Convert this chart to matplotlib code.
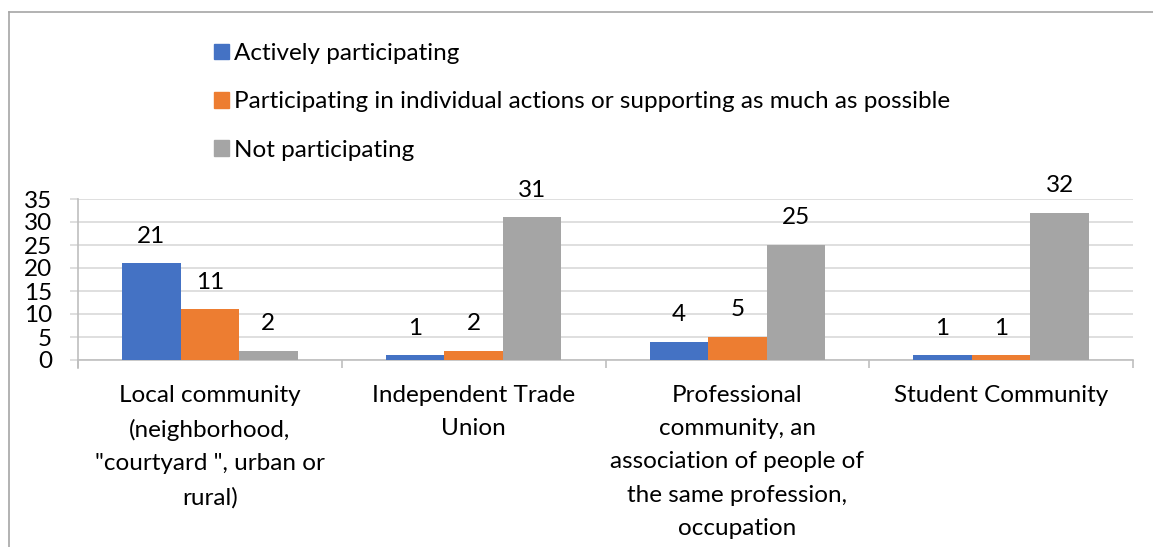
import numpy as np
import matplotlib
matplotlib.use("Agg")
import matplotlib.pyplot as plt
from matplotlib.lines import Line2D

plt.rcParams["font.family"] = ["Lato", "DejaVu Sans"]

categories = [
    "Local community\n(neighborhood,\n\"courtyard \", urban or\nrural)",
    "Independent Trade\nUnion",
    "Professional\ncommunity, an\nassociation of people of\nthe same profession,\noccupation",
    "Student Community",
]
series_names = [
    "Actively participating",
    "Participating in individual actions or supporting as much as possible",
    "Not participating",
]
active = [21, 1, 4, 1]
partial = [11, 2, 5, 1]
not_part = [2, 31, 25, 32]
y_ticks = [0, 5, 10, 15, 20, 25, 30, 35]

COLORS = ["#4472C4", "#ED7D31", "#A5A5A5"]
GRID = "#d9d9d9"
AXIS = "#bfbfbf"
INK = "#000000"
FS = 17.5

fig = plt.figure(figsize=(11.53, 5.47), dpi=100)
ax = fig.add_axes([78 / 1153, 1 - 360 / 547, (1133 - 78) / 1153, (360 - 199) / 547])

x = np.arange(len(categories))
w = 0.222
for i, (vals, col, name) in enumerate(zip([active, partial, not_part], COLORS, series_names)):
    pos = x + (i - 1) * w
    ax.bar(pos, vals, width=w, color=col, label=name, zorder=3)
    for px, v in zip(pos, vals):
        ax.annotate(str(v), (px, v), xytext=(0, 27), textcoords="offset pixels",
                    ha="center", va="center", fontsize=FS, color=INK)

ax.set_xlim(-0.5, len(categories) - 0.5)
ax.set_ylim(0, 35)
ax.set_yticks(y_ticks)
ax.tick_params(axis="y", length=5.8, width=1.2, color=GRID, pad=13, labelsize=FS, labelcolor=INK)
ax.yaxis.grid(True, color=GRID, linewidth=1.2, zorder=0)
ax.set_axisbelow(True)

ax.set_xticks(x)
ax.set_xticklabels(categories, fontsize=FS, linespacing=1.72, color=INK)
ax.tick_params(axis="x", which="major", length=0, pad=18)
ax.set_xticks(np.arange(len(categories) + 1) - 0.5, minor=True)
ax.tick_params(axis="x", which="minor", length=6, width=1.2, color=AXIS)

for s in ["top", "right"]:
    ax.spines[s].set_visible(False)
ax.spines["left"].set_color(AXIS)
ax.spines["bottom"].set_color(AXIS)
ax.spines["left"].set_linewidth(1.2)
ax.spines["bottom"].set_linewidth(1.2)
ax.spines["left"].set_bounds(-1.7, 35)

# legend as a stacked list above the plot
handles = [plt.Rectangle((0, 0), 1, 1, color=c) for c in COLORS]
fig.legend(handles, series_names, loc="upper left", bbox_to_anchor=(202 / 1153, 1 - 31 / 547),
           frameon=False, fontsize=FS, handlelength=0.62, handleheight=0.62,
           handletextpad=0.2, labelspacing=1.12, borderpad=0)

# outer chart frame
fig.add_artist(Line2D([9 / 1153, 9 / 1153], [0, 1 - 12 / 547], color="#a6a6a6", linewidth=1.2))
fig.add_artist(Line2D([9 / 1153, 1], [1 - 12 / 547, 1 - 12 / 547], color="#a6a6a6", linewidth=1.2))

fig.savefig("out.png", dpi=100, facecolor="white")
